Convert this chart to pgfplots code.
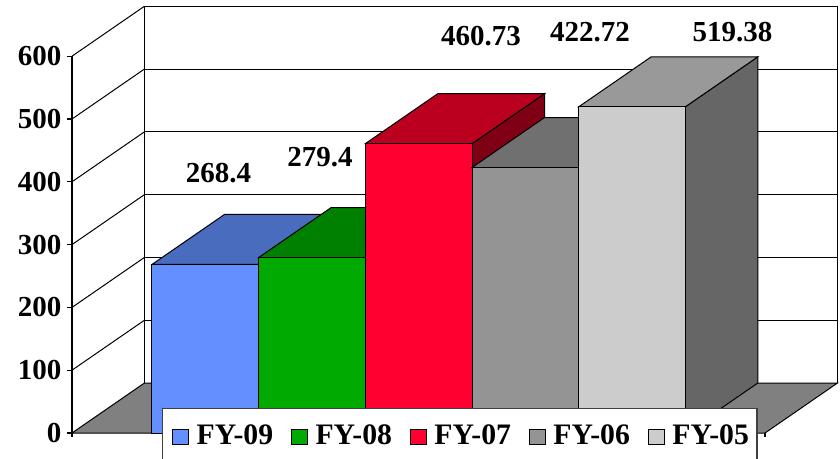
\documentclass[border=0pt]{standalone}
\usepackage{fontspec}
\setmainfont{Liberation Serif}
\usepackage{pgfplots}
\pgfplotsset{compat=1.18}
\definecolor{cBlue}{HTML}{6490FF}\definecolor{cBlueT}{HTML}{4A6CBF}\definecolor{cBlueS}{HTML}{324880}
\definecolor{cGreen}{HTML}{00AA00}\definecolor{cGreenT}{HTML}{008000}\definecolor{cGreenS}{HTML}{005500}
\definecolor{cRed}{HTML}{FF0030}\definecolor{cRedT}{HTML}{BB001F}\definecolor{cRedS}{HTML}{7F0014}
\definecolor{cDG}{HTML}{949494}\definecolor{cDGT}{HTML}{707070}\definecolor{cDGS}{HTML}{4A4A4A}
\definecolor{cLG}{HTML}{CCCCCC}\definecolor{cLGT}{HTML}{999999}\definecolor{cLGS}{HTML}{666666}
\newcommand{\bigb}{\bfseries\fontsize{21.75}{24}\selectfont}
\newcommand{\legb}{\bfseries\fontsize{22.3}{24}\selectfont}
\newcommand{\lt}[1]{\raisebox{0pt}[10.75pt][0pt]{#1}}
\begin{document}
\begin{tikzpicture}
\path[use as bounding box] (-54pt,-18.75pt) rectangle (576pt,324.75pt);
\begin{axis}[
  scale only axis, width=576pt, height=282.6pt,
  xmin=72, xmax=840, ymin=0, ymax=600, clip=false,
  axis x line=none, axis y line=left,
  y axis line style={-, line width=1pt, black},
  ytick={0,100,200,300,400,500,600},
  tick align=outside, major tick length=3.75pt,
  ytick style={black, line width=0.8pt},
  yticklabel style={font=\bigb, /pgf/number format/assume math mode=true},
  yticklabel shift=0.6pt,
  every axis plot/.append style={forget plot, no markers},
  B/.style={draw=black, line width=0.75pt, line join=miter},
  G/.style={draw=black, line width=0.75pt},
  legend columns=5,
  legend style={at={(axis cs:162,39.8)}, anchor=north west, draw=black!75, line width=0.9pt, fill=white,
    inner xsep=7pt, inner ysep=14pt, font=\legb, cells={anchor=base west},
    /tikz/every even column/.append style={column sep=11.3pt}},
  legend image code/.code={\draw[#1] (0pt,0pt) rectangle (12pt,10.75pt);\path (15.75pt,0pt);},
]
% back wall gridlines
\addplot[G, line width=1pt] coordinates {(144.5,79.62)(144.5,679.62)(837.5,679.62)(837.5,79.62)};
\addplot[G] coordinates {(144.5,179.62)(837.5,179.62)};
\addplot[G] coordinates {(144.5,279.62)(837.5,279.62)};
\addplot[G] coordinates {(144.5,379.62)(837.5,379.62)};
\addplot[G] coordinates {(144.5,479.62)(837.5,479.62)};
\addplot[G] coordinates {(144.5,579.62)(837.5,579.62)};
% side wall gridlines
\addplot[G] coordinates {(72,100)(144.5,179.62)};
\addplot[G] coordinates {(72,200)(144.5,279.62)};
\addplot[G] coordinates {(72,300)(144.5,379.62)};
\addplot[G] coordinates {(72,400)(144.5,479.62)};
\addplot[G] coordinates {(72,500)(144.5,579.62)};
\addplot[G] coordinates {(72,600)(144.5,679.62)};
% floor
\addplot[B, fill=black!50] coordinates {(72,0)(144.5,79.62)(837.5,79.62)(765,0)} --cycle;
% ticks of the floor edge
\addplot[black, line width=0.8pt] coordinates {(72,0)(72,-7)};
\addplot[black, line width=0.8pt] coordinates {(765,0)(765,-7)};
% FY-09
\addplot[B, fill=cBlueS] coordinates {(258.7,0)(331.2,79.62)(331.2,348.02)(258.7,268.4)} --cycle;
\addplot[B, fill=cBlueT] coordinates {(152,268.4)(224.5,348.02)(331.2,348.02)(258.7,268.4)} --cycle;
\addplot[B, fill=cBlue] coordinates {(152,0)(258.7,0)(258.7,268.4)(152,268.4)} --cycle;
% FY-08
\addplot[B, fill=cGreenS] coordinates {(365.3,0)(437.8,79.62)(437.8,359.02)(365.3,279.4)} --cycle;
\addplot[B, fill=cGreenT] coordinates {(258.7,279.4)(331.2,359.02)(437.8,359.02)(365.3,279.4)} --cycle;
\addplot[B, fill=cGreen] coordinates {(258.7,0)(365.3,0)(365.3,279.4)(258.7,279.4)} --cycle;
% FY-07
\addplot[B, fill=cRedS] coordinates {(472,0)(544.5,79.62)(544.5,540.35)(472,460.73)} --cycle;
\addplot[B, fill=cRedT] coordinates {(365.3,460.73)(437.8,540.35)(544.5,540.35)(472,460.73)} --cycle;
\addplot[B, fill=cRed] coordinates {(365.3,0)(472,0)(472,460.73)(365.3,460.73)} --cycle;
% FY-06
\addplot[B, fill=cDGS] coordinates {(578.7,0)(651.2,79.62)(651.2,502.34)(578.7,422.72)} --cycle;
\addplot[B, fill=cDGT] coordinates {(472,422.72)(544.5,502.34)(651.2,502.34)(578.7,422.72)} --cycle;
\addplot[B, fill=cDG] coordinates {(472,0)(578.7,0)(578.7,422.72)(472,422.72)} --cycle;
% FY-05
\addplot[B, fill=cLGS] coordinates {(685.3,0)(757.8,79.62)(757.8,599.0)(685.3,519.38)} --cycle;
\addplot[B, fill=cLGT] coordinates {(578.7,519.38)(651.2,599.0)(757.8,599.0)(685.3,519.38)} --cycle;
\addplot[B, fill=cLG] coordinates {(578.7,0)(685.3,0)(685.3,519.38)(578.7,519.38)} --cycle;
% labels
\node[anchor=base, font=\bigb, inner sep=0pt] at (axis cs:218.5,398.1) {268.4};
\node[anchor=base, font=\bigb, inner sep=0pt] at (axis cs:320,423.6) {279.4};
\node[anchor=base, font=\bigb, inner sep=0pt] at (axis cs:481,617.8) {460.73};
\node[anchor=base, font=\bigb, inner sep=0pt] at (axis cs:590,624) {422.72};
\node[anchor=base, font=\bigb, inner sep=0pt] at (axis cs:732.5,624) {519.38};
% legend
\addlegendimage{B, fill=cBlue}\addlegendentry{\lt{FY-09}}
\addlegendimage{B, fill=cGreen}\addlegendentry{\lt{FY-08}}
\addlegendimage{B, fill=cRed}\addlegendentry{\lt{FY-07}}
\addlegendimage{B, fill=cDG}\addlegendentry{\lt{FY-06}}
\addlegendimage{B, fill=cLG}\addlegendentry{\lt{FY-05}\hspace*{-3pt}}
\end{axis}
\end{tikzpicture}
\end{document}
